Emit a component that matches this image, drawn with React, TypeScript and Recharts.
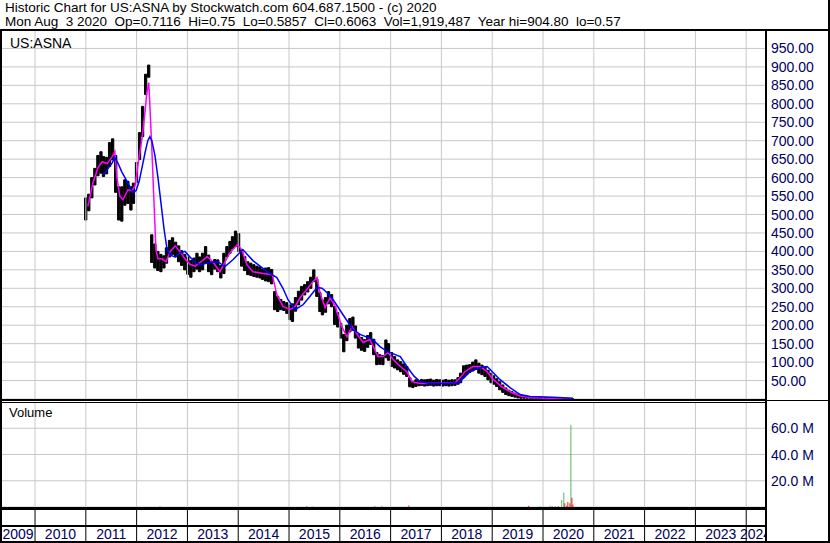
import { Bar, CartesianGrid, ComposedChart, Line, ReferenceLine, Scatter, XAxis, YAxis } from 'recharts';

const FONT = '"Liberation Sans", Arial, sans-serif';
const AXIS_TEXT = '#000060';
const GRID = '#c8c8c8';

const headerLine1 = 'Historic Chart for US:ASNA by Stockwatch.com 604.687.1500 - (c) 2020';
const headerLine2 =
  'Mon Aug  3 2020  Op=0.7116  Hi=0.75  Lo=0.5857  Cl=0.6063  Vol=1,919,487  Year hi=904.80  lo=0.57';
const symbol = 'US:ASNA';

// time axis, in fractional years
const xStart = 2009.33;
const xEnd = 2024.37;
const yearLines = [2010, 2011, 2012, 2013, 2014, 2015, 2016, 2017, 2018, 2019, 2020, 2021, 2022, 2023, 2024];
const yearLabels = ['2009', '2010', '2011', '2012', '2013', '2014', '2015', '2016', '2017', '2018', '2019', '2020', '2021', '2022', '2023', '2024'];

const priceTicks = [50, 100, 150, 200, 250, 300, 350, 400, 450, 500, 550, 600, 650, 700, 750, 800, 850, 900, 950];
const volumeTicks = [20, 40, 60]; // millions
// the volume scale runs on below zero into the date strip
const volumeMax = 80;
const volumeFloor = -25.9;
const yearLabelLevel = -24.4;

// price bars (high / low)
const barDates = [
  2011.0, 2011.06, 2011.12, 2011.18, 2011.24, 2011.3, 2011.35, 2011.41, 2011.47, 2011.53,
  2011.59, 2011.65, 2011.71, 2011.77, 2011.83, 2011.89, 2011.94, 2012.0, 2012.06, 2012.12,
  2012.18, 2012.24, 2012.3, 2012.36, 2012.42, 2012.48, 2012.54, 2012.59, 2012.65, 2012.71,
  2012.77, 2012.83, 2012.89, 2012.95, 2013.01, 2013.07, 2013.13, 2013.19, 2013.24, 2013.3,
  2013.36, 2013.42, 2013.48, 2013.54, 2013.6, 2013.66, 2013.72, 2013.78, 2013.84, 2013.89,
  2013.95, 2014.01, 2014.07, 2014.13, 2014.19, 2014.25, 2014.31, 2014.37, 2014.43, 2014.48,
  2014.54, 2014.6, 2014.66, 2014.72, 2014.78, 2014.84, 2014.9, 2014.96, 2015.02, 2015.07,
  2015.13, 2015.19, 2015.25, 2015.31, 2015.37, 2015.43, 2015.49, 2015.55, 2015.61, 2015.66,
  2015.72, 2015.78, 2015.84, 2015.9, 2015.96, 2016.02, 2016.08, 2016.14, 2016.2, 2016.26,
  2016.31, 2016.37, 2016.43, 2016.49, 2016.55, 2016.61, 2016.67, 2016.73, 2016.79, 2016.85,
  2016.91, 2016.96, 2017.02, 2017.08, 2017.14, 2017.2, 2017.26, 2017.32, 2017.38, 2017.44,
  2017.5, 2017.56, 2017.61, 2017.67, 2017.73, 2017.79, 2017.85, 2017.91, 2017.97, 2018.03,
  2018.09, 2018.15, 2018.21, 2018.27, 2018.33, 2018.38, 2018.44, 2018.5, 2018.56, 2018.62,
  2018.68, 2018.74, 2018.8, 2018.86, 2018.92, 2018.98, 2019.03, 2019.09, 2019.15, 2019.21,
  2019.27, 2019.33, 2019.39, 2019.45, 2019.51, 2019.57, 2019.63, 2019.69, 2019.75, 2019.8,
  2019.86, 2019.92, 2019.98, 2020.04, 2020.1, 2020.16, 2020.22, 2020.28, 2020.34, 2020.4,
  2020.46, 2020.52, 2020.58,
];
const barHighs = [
  545, 555, 600, 625, 660, 670, 657, 655, 695, 705,
  660, 575, 575, 594, 590, 575, 585, 641, 722, 793,
  880, 905, 445, 420, 400, 392, 388, 410, 430, 437,
  425, 415, 402, 392, 385, 375, 382, 395, 385, 395,
  413, 390, 372, 378, 377, 362, 395, 413, 427, 440,
  455, 448, 405, 386, 372, 368, 364, 360, 358, 351,
  355, 356, 351, 291, 278, 270, 264, 261, 255, 258,
  275, 292, 305, 310, 318, 330, 350, 325, 288, 268,
  275, 291, 283, 251, 234, 205, 175, 200, 218, 222,
  198, 175, 167, 161, 172, 180, 162, 126, 120, 118,
  160, 150, 126, 115, 106, 101, 95, 88, 58, 48,
  52, 50, 53, 52, 53, 54, 51, 53, 52, 51,
  53, 51, 52, 52, 58, 70, 90, 92, 93, 100,
  106, 97, 92, 88, 78, 70, 63, 55, 47, 38,
  30, 24, 20, 16, 13, 11, 9, 8, 7, 6.5,
  6, 5.5, 5, 4.5, 4, 3.6, 3.3, 3, 2.7, 2.4,
  2.1, 1.8, 1.2,
];
const barLows = [
  485, 510, 545, 580, 605, 612, 603, 610, 630, 648,
  560, 485, 482, 525, 530, 512, 530, 586, 649, 711,
  825, 872, 370, 355, 348, 345, 355, 368, 385, 392,
  385, 372, 362, 350, 338, 330, 345, 352, 345, 350,
  368, 345, 337, 352, 345, 328, 340, 385, 395, 408,
  413, 400, 360, 348, 337, 335, 332, 330, 328, 324,
  320, 318, 312, 242, 237, 242, 240, 232, 215, 210,
  238, 255, 268, 282, 290, 300, 318, 278, 237, 228,
  235, 258, 250, 202, 195, 165, 128, 158, 182, 186,
  165, 138, 132, 129, 140, 148, 120, 93, 94, 93,
  112, 105, 88, 84, 79, 74, 67, 61, 33, 31,
  34, 36, 37, 35, 36, 37, 35, 36, 36, 35,
  36, 35, 36, 37, 40, 44, 58, 66, 72, 76,
  80, 70, 66, 61, 52, 44, 40, 34, 25, 18,
  12, 9, 7, 5, 3, 2, 2, 2, 2, 2,
  1.8, 1.6, 1.4, 1.2, 1.1, 1, 0.9, 0.8, 0.75, 0.7,
  0.65, 0.6, 0.57,
];

// short moving average (magenta)
const fastMaDates = [
  2011.04, 2011.14, 2011.24, 2011.32, 2011.42, 2011.52, 2011.57, 2011.61, 2011.67, 2011.73,
  2011.83, 2011.91, 2011.97, 2012.03, 2012.11, 2012.17, 2012.2, 2012.24, 2012.3, 2012.34,
  2012.38, 2012.42, 2012.5, 2012.58, 2012.66, 2012.76, 2012.85, 2012.95, 2013.05, 2013.15,
  2013.25, 2013.39, 2013.5, 2013.64, 2013.74, 2013.84, 2013.98, 2014.07, 2014.17, 2014.29,
  2014.49, 2014.67, 2014.76, 2014.88, 2015.02, 2015.12, 2015.22, 2015.35, 2015.47, 2015.55,
  2015.61, 2015.71, 2015.81, 2015.91, 2016.04, 2016.14, 2016.24, 2016.34, 2016.46, 2016.59,
  2016.65, 2016.75, 2016.85, 2016.95, 2017.05, 2017.19, 2017.32, 2017.42, 2017.58, 2017.97,
  2018.27, 2018.37, 2018.46, 2018.62, 2018.76, 2018.9, 2019.02, 2019.19, 2019.39, 2019.55,
  2019.74, 2020.14, 2020.57,
];
const fastMaValues = [
  522, 586, 627, 643, 638, 657, 671, 603, 549, 540,
  567, 564, 578, 638, 711, 784, 830, 857, 676, 540,
  405, 380, 380, 372, 400, 415, 400, 380, 365, 360,
  370, 386, 372, 345, 372, 397, 418, 405, 364, 345,
  340, 337, 283, 251, 242, 251, 275, 297, 318, 329,
  288, 248, 275, 251, 196, 169, 196, 175, 153, 161,
  145, 115, 115, 126, 107, 88, 74, 47, 42, 43,
  44, 58, 74, 88, 88, 74, 53, 33, 17, 8,
  4, 2, 1,
];

// long moving average (blue)
const slowMaDates = [
  2011.34, 2011.44, 2011.52, 2011.57, 2011.63, 2011.71, 2011.79, 2011.87, 2011.93, 2011.99,
  2012.05, 2012.11, 2012.17, 2012.22, 2012.26, 2012.3, 2012.36, 2012.42, 2012.48, 2012.54,
  2012.6, 2012.66, 2012.76, 2012.85, 2012.95, 2013.05, 2013.15, 2013.25, 2013.44, 2013.6,
  2013.74, 2013.9, 2014.09, 2014.29, 2014.43, 2014.57, 2014.76, 2014.88, 2014.98, 2015.12,
  2015.28, 2015.41, 2015.55, 2015.65, 2015.75, 2015.87, 2016.06, 2016.26, 2016.4, 2016.65,
  2016.79, 2016.93, 2017.19, 2017.32, 2017.46, 2017.58, 2017.78, 2018.07, 2018.33, 2018.46,
  2018.56, 2018.76, 2018.9, 2018.96, 2019.15, 2019.35, 2019.55, 2019.74, 2020.2, 2020.59,
];
const slowMaValues = [
  608, 625, 640, 654, 640, 615, 595, 575, 559, 565,
  590, 630, 670, 700, 711, 700, 660, 600, 530, 460,
  405, 390, 385, 395, 400, 385, 370, 364, 370, 372,
  359, 378, 405, 375, 360, 345, 329, 300, 269, 242,
  256, 278, 302, 300, 288, 269, 229, 188, 175, 161,
  142, 129, 115, 88, 62, 47, 42, 42, 44, 60,
  74, 85, 88, 80, 53, 31, 12, 7, 5, 2,
];

// volume, millions of shares (up days green, down days red)
const volUpDates = [2015.47, 2016.83, 2019.94, 2020.14, 2020.24, 2020.37, 2020.41, 2020.55];
const volUpValues = [0.4, 1.0, 0.5, 1.0, 0.5, 5.3, 11, 62.7];
const volDownDates = [2012.46, 2015.35, 2016.69, 2017.36, 2019.72, 2020.18, 2020.3, 2020.43, 2020.47, 2020.49, 2020.53, 2020.57, 2020.59];
const volDownValues = [0.4, 0.5, 0.5, 1.2, 1.0, 0.5, 0.5, 2.8, 1.0, 3.8, 2.8, 7.1, 2.0];

const barRows = barDates.map((t, i) => ({ t, range: [barLows[i], barHighs[i]] }));

interface MaRow {
  t: number;
  fast?: number;
  slow?: number;
}
const maRows: MaRow[] = [
  ...fastMaDates.map((t, i) => ({ t, fast: fastMaValues[i] })),
  ...slowMaDates.map((t, i) => ({ t, slow: slowMaValues[i] })),
].sort((a, b) => a.t - b.t);

const volumeRows = [
  ...volUpDates.map((t, i) => ({ t, up: volUpValues[i] })),
  ...volDownDates.map((t, i) => ({ t, down: volDownValues[i] })),
].sort((a, b) => a.t - b.t);

// year labels sit in the middle of each (visible) year
const labelRows = yearLabels.map((label, i) => {
  const from = i === 0 ? xStart : yearLines[i - 1];
  const to = i === yearLines.length ? xEnd : yearLines[i];
  return { t: (from + to) / 2, y: yearLabelLevel, label };
});

function PriceTick({ x, y, payload }: any) {
  return (
    <text x={x} y={y + 5} textAnchor="start" fontSize={14} fontFamily={FONT} fill={AXIS_TEXT}>
      {payload.value.toFixed(2)}
    </text>
  );
}

function VolumeTick({ x, y, payload }: any) {
  return (
    <text x={x} y={y + 5} textAnchor="start" fontSize={14} fontFamily={FONT} fill={AXIS_TEXT}>
      {`${payload.value.toFixed(1)} M`}
    </text>
  );
}

function YearLabel({ cx, cy, payload }: any) {
  return (
    <text x={cx} y={cy} textAnchor="middle" fontSize={14} fontFamily={FONT} fill={AXIS_TEXT}>
      {payload.label}
    </text>
  );
}

const rule = (left: number, top: number, width: number, height: number) => (
  <div style={{ position: 'absolute', left, top, width, height, background: '#000' }} />
);

const PRICE_W = 830;
const PRICE_H = 369;
const priceMargin = { top: 0, right: 0, bottom: 0, left: 1 };

export default function App() {
  return (
    <div
      style={{
        position: 'absolute',
        left: 0,
        top: 0,
        width: 830,
        height: 543,
        background: '#fff',
        fontFamily: FONT,
        overflow: 'hidden',
      }}
    >
      {/* header */}
      <div style={{ position: 'absolute', left: 5, top: 1, height: 14, fontSize: 13.5, lineHeight: '14px', whiteSpace: 'pre' }}>
        {headerLine1}
      </div>
      <div style={{ position: 'absolute', left: 5, top: 15, height: 14, fontSize: 13.5, lineHeight: '14px', whiteSpace: 'pre' }}>
        {headerLine2}
      </div>

      {/* price panel: bars */}
      <div style={{ position: 'absolute', left: 0, top: 30 }}>
        <ComposedChart width={PRICE_W} height={PRICE_H} data={barRows} margin={priceMargin}>
          <CartesianGrid vertical={false} stroke={GRID} />
          <XAxis dataKey="t" type="number" domain={[xStart, xEnd]} allowDataOverflow hide />
          <YAxis
            orientation="right"
            width={65}
            domain={[0, 1000]}
            ticks={priceTicks}
            interval={0}
            axisLine={false}
            tickLine={false}
            tickSize={0}
            tickMargin={6}
            tick={<PriceTick />}
          />
          {yearLines.map((yr) => (
            <ReferenceLine key={yr} x={yr} stroke={GRID} />
          ))}
          <Bar dataKey="range" fill="#000" stroke="#000" strokeWidth={1} barSize={3} isAnimationActive={false} />
        </ComposedChart>
      </div>
      {/* price panel: moving averages, same axes */}
      <div style={{ position: 'absolute', left: 0, top: 30 }}>
        <ComposedChart width={PRICE_W} height={PRICE_H} data={maRows} margin={priceMargin}>
          <XAxis dataKey="t" type="number" domain={[xStart, xEnd]} allowDataOverflow hide />
          <YAxis orientation="right" width={65} domain={[0, 1000]} ticks={priceTicks} axisLine={false} tickLine={false} tick={false} />
          <Line type="linear" dataKey="fast" stroke="#ff00ff" strokeWidth={1.5} dot={false} connectNulls isAnimationActive={false} />
          <Line type="linear" dataKey="slow" stroke="#0000ff" strokeWidth={1.5} dot={false} connectNulls isAnimationActive={false} />
        </ComposedChart>
      </div>
      <div style={{ position: 'absolute', left: 10, top: 36, fontSize: 14, lineHeight: '14px' }}>{symbol}</div>

      {/* date strip: year dividers and labels, on the volume scale extended below zero */}
      <div style={{ position: 'absolute', left: 0, top: 402 }}>
        <ComposedChart width={830} height={141} data={labelRows} margin={{ top: 0, right: 65, bottom: 2, left: 1 }}>
          <XAxis dataKey="t" type="number" domain={[xStart, xEnd]} allowDataOverflow hide />
          <YAxis hide domain={[volumeFloor, volumeMax]} allowDataOverflow />
          {yearLines.map((yr) => (
            <ReferenceLine key={`strip-${yr}`} x={yr} stroke="#000" />
          ))}
          <Scatter dataKey="y" shape={<YearLabel />} isAnimationActive={false} />
        </ComposedChart>
      </div>

      {/* volume panel, drawn over the top part of the strip chart */}
      <div style={{ position: 'absolute', left: 0, top: 402 }}>
        <ComposedChart width={830} height={105} data={volumeRows} margin={{ top: 0, right: 0, bottom: 0, left: 1 }}>
          <CartesianGrid vertical={false} stroke={GRID} fill="#fff" fillOpacity={1} />
          <XAxis dataKey="t" type="number" domain={[xStart, xEnd]} allowDataOverflow hide />
          <YAxis
            orientation="right"
            width={65}
            domain={[0, volumeMax]}
            ticks={volumeTicks}
            interval={0}
            axisLine={false}
            tickLine={false}
            tickSize={0}
            tickMargin={6}
            tick={<VolumeTick />}
          />
          {yearLines.map((yr) => (
            <ReferenceLine key={`grid-${yr}`} x={yr} stroke={GRID} />
          ))}
          <Bar dataKey="up" stackId="v" fill="#4caf50" barSize={2} isAnimationActive={false} />
          <Bar dataKey="down" stackId="v" fill="#ff0000" barSize={2} isAnimationActive={false} />
        </ComposedChart>
      </div>
      <div style={{ position: 'absolute', left: 9, top: 406, fontSize: 13, lineHeight: '13px' }}>Volume</div>

      {/* panel rules */}
      {rule(0, 29, 830, 2)}
      {rule(828, 0, 2, 543)}
      {rule(0, 541, 830, 2)}
      {rule(0, 30, 2, 513)}
      {rule(765, 30, 2, 513)}
      {rule(0, 399, 765, 2)}
      {rule(0, 402, 765, 1)}
      {rule(765, 400, 65, 1)}
      {rule(0, 507, 765, 3)}
      {rule(0, 525, 765, 2)}
    </div>
  );
}
